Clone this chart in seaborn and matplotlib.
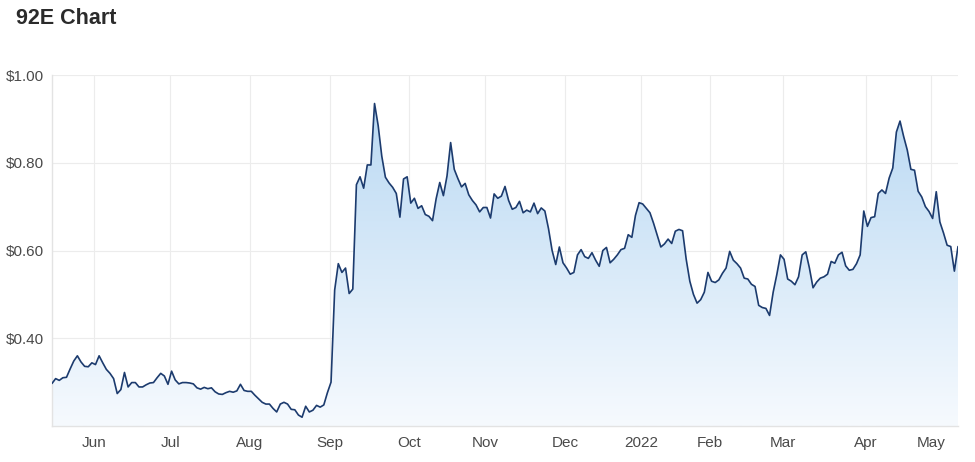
import numpy as np
import pandas as pd
import seaborn as sns
import matplotlib.pyplot as plt
from matplotlib.colors import LinearSegmentedColormap

# ASX trading days, 17 May 2021 - 12 May 2022
holidays = ["2021-06-14", "2021-12-27", "2021-12-28", "2022-01-03",
            "2022-01-26", "2022-04-15", "2022-04-18", "2022-04-25"]
dates = pd.bdate_range("2021-05-17", "2022-05-12", freq="C", holidays=holidays)

# closing price
may_21 = [0.297, 0.308, 0.304, 0.310, 0.311, 0.330, 0.348, 0.360, 0.346, 0.336, 0.335]
jun_21 = [0.344, 0.340, 0.360, 0.344, 0.329, 0.320, 0.308, 0.274, 0.283, 0.322,
          0.289, 0.299, 0.299, 0.289, 0.289, 0.294, 0.298, 0.299, 0.310, 0.320, 0.314]
jul_21 = [0.295, 0.325, 0.305, 0.296, 0.299, 0.299, 0.298, 0.296, 0.287, 0.284,
          0.288, 0.285, 0.287, 0.278, 0.273, 0.272, 0.276, 0.279, 0.277, 0.280, 0.295, 0.281]
aug_21 = [0.279, 0.279, 0.270, 0.262, 0.254, 0.250, 0.250, 0.240, 0.232, 0.250,
          0.254, 0.250, 0.238, 0.237, 0.225, 0.220, 0.245, 0.232, 0.236, 0.247, 0.243, 0.248]
sep_21 = [0.276, 0.300, 0.510, 0.570, 0.550, 0.560, 0.502, 0.512, 0.750, 0.768,
          0.742, 0.795, 0.795, 0.935, 0.885, 0.815, 0.767, 0.754, 0.744, 0.730, 0.676, 0.763]
oct_21 = [0.768, 0.708, 0.719, 0.696, 0.702, 0.682, 0.678, 0.668, 0.718, 0.755,
          0.725, 0.770, 0.846, 0.785, 0.764, 0.745, 0.753, 0.727, 0.714, 0.704, 0.688]
nov_21 = [0.698, 0.698, 0.674, 0.729, 0.719, 0.724, 0.746, 0.714, 0.694, 0.698,
          0.712, 0.686, 0.692, 0.688, 0.708, 0.684, 0.697, 0.690, 0.650, 0.600, 0.568, 0.608]
dec_21 = [0.572, 0.560, 0.546, 0.550, 0.590, 0.602, 0.586, 0.582, 0.595, 0.578,
          0.564, 0.600, 0.607, 0.572, 0.580, 0.590, 0.602, 0.605, 0.636, 0.630, 0.680]
jan_22 = [0.709, 0.706, 0.696, 0.686, 0.662, 0.635, 0.608, 0.615, 0.626, 0.616,
          0.644, 0.648, 0.645, 0.580, 0.530, 0.500, 0.480, 0.488, 0.505]
feb_22 = [0.550, 0.530, 0.527, 0.533, 0.548, 0.560, 0.598, 0.578, 0.570, 0.560,
          0.537, 0.535, 0.523, 0.518, 0.475, 0.470, 0.468, 0.452, 0.505, 0.545]
mar_22 = [0.590, 0.580, 0.535, 0.530, 0.522, 0.540, 0.590, 0.597, 0.560, 0.515,
          0.528, 0.537, 0.540, 0.546, 0.575, 0.571, 0.590, 0.596, 0.565, 0.555,
          0.557, 0.570, 0.590]
apr_22 = [0.690, 0.655, 0.675, 0.677, 0.730, 0.738, 0.730, 0.765, 0.788, 0.870,
          0.895, 0.860, 0.829, 0.785, 0.783, 0.735, 0.722, 0.700]
may_22 = [0.689, 0.673, 0.734, 0.665, 0.640, 0.612, 0.609, 0.553, 0.609]

price = (may_21 + jun_21 + jul_21 + aug_21 + sep_21 + oct_21 + nov_21 + dec_21
         + jan_22 + feb_22 + mar_22 + apr_22 + may_22)
month_labels = ["Jun", "Jul", "Aug", "Sep", "Oct", "Nov", "Dec",
                "2022", "Feb", "Mar", "Apr", "May"]
y_ticks = [0.40, 0.60, 0.80, 1.00]

df = pd.DataFrame({"date": dates[:len(price)], "price": price})
df["pos"] = np.arange(len(df))
# ticks sit a touch after the first trading day of each month
month_pos = df.groupby(df["date"].dt.to_period("M"))["pos"].min().values[1:] + 0.6

sns.set_style("white")
plt.rcParams["font.family"] = ["Liberation Sans", "DejaVu Sans"]

fig = plt.figure(figsize=(9.75, 4.62), dpi=100)
ax = fig.add_axes([52 / 975, 1 - 426 / 462, 906 / 975, 351 / 462])

ymin, ymax = 0.2, 1.0
x0, x1 = df["pos"].iloc[0], df["pos"].iloc[-1]

# gradient fill under the line
poly = ax.fill_between(df["pos"], df["price"], ymin, color="none", lw=0)
cmap = LinearSegmentedColormap.from_list("g", ["#f6fafe", "#bad9f3"])
grad = np.linspace(0, 1, 256).reshape(-1, 1)
img = ax.imshow(grad, cmap=cmap, origin="lower", aspect="auto",
                extent=[x0, x1, ymin, df["price"].max()], zorder=1)
img.set_clip_path(poly.get_paths()[0], transform=ax.transData)

sns.lineplot(data=df, x="pos", y="price", ax=ax, color="#1c3b6e", lw=1.2, zorder=3)

ax.set_xlim(x0, x1)
ax.set_ylim(ymin, ymax)
ax.set_xticks(month_pos)
ax.set_xticklabels(month_labels)
ax.set_yticks(y_ticks)
ax.set_yticklabels([f"${v:.2f}" for v in y_ticks])
ax.tick_params(length=0, labelsize=11, labelcolor="#4a4a4a")
ax.tick_params(axis="x", pad=7)
ax.tick_params(axis="y", pad=6)
ax.set_xlabel("")
ax.set_ylabel("")
ax.grid(True, color="#ececec", lw=0.8, zorder=0)
ax.set_axisbelow(True)
for side in ["top", "right"]:
    ax.spines[side].set_visible(False)
for side in ["left", "bottom"]:
    ax.spines[side].set_color("#e3e3e3")
    ax.spines[side].set_linewidth(1)

fig.text(16 / 975, 1 - 19 / 462, "92E Chart", fontsize=15.5, fontweight="bold",
         color="#2b2b2b", va="center", ha="left")

fig.savefig("out.png", dpi=100)
